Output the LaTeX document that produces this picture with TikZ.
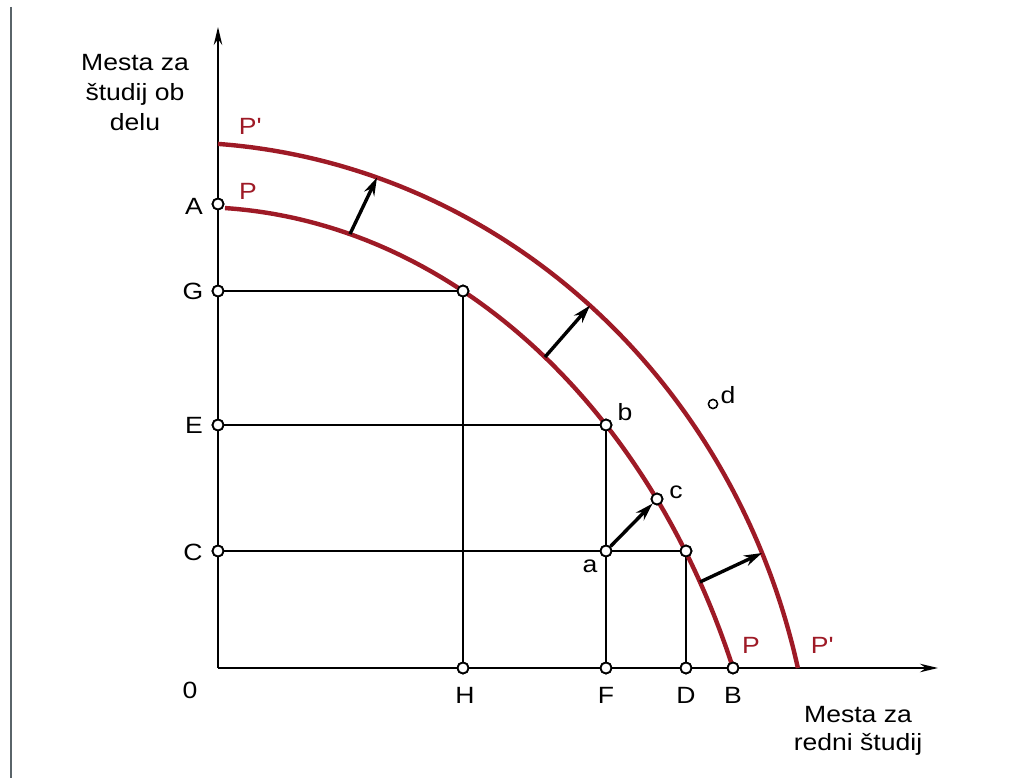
\documentclass[tikz,border=0pt]{standalone}
\usepackage{fontspec}
\setmainfont{Liberation Sans}[FakeStretch=1.13]
\usetikzlibrary{arrows.meta}
\definecolor{curvered}{RGB}{158,26,38}
\definecolor{scanline}{RGB}{90,100,105}
\begin{document}
\begin{tikzpicture}[x=1pt,y=-1pt,
  lbl/.style={font=\fontsize{23.5}{28}\selectfont, inner sep=0pt, anchor=base},
  redlbl/.style={lbl, text=curvered},
  pt/.style={circle, draw=black, fill=white, line width=1.8pt, minimum size=11pt, inner sep=0pt},
  smallpt/.style={pt, minimum size=9pt, line width=1.4pt},
  axis/.style={line width=2pt, -{Stealth[length=18pt,width=8.5pt]}},
  guide/.style={line width=1.5pt},
  ppf/.style={draw=curvered, line width=4.4pt},
  shiftarrow/.style={line width=3.4pt, -{Stealth[length=18pt,width=11pt]}},
]
\useasboundingbox (0,0) rectangle (1034,778);
\fill[white] (0,0) rectangle (1034,778);
% scan edge
\draw[line width=1.4pt, scanline] (11,7) -- (11,778);

% axes
\coordinate (O) at (218,668);
\coordinate (ytop) at (218,27);
\coordinate (xend) at (938,668);

% points on axes
\node[pt] (A) at (218,204) {};
\node[pt] (G) at (218,291) {};
\node[pt] (E) at (218,425) {};
\node[pt] (C) at (218,551) {};
\node[pt] (H) at (463,668) {};
\node[pt] (F) at (606,668) {};
\node[pt] (D) at (686,668) {};
\node[pt] (B) at (733,668) {};
% points inside
\node[pt] (Gp) at (463,291) {};
\node[pt] (b) at (606,425) {};
\node[pt] (c) at (657,499) {};
\node[pt] (a) at (606,551) {};
\node[pt] (Dp) at (686,551) {};
\node[smallpt] (d) at (713,404) {};

% guide lines
\draw[guide] (G) -- (Gp);
\draw[guide] (Gp) -- (H);
\draw[guide] (E) -- (b);
\draw[guide] (b) -- (a);
\draw[guide] (a) -- (F);
\draw[guide] (C) -- (a);
\draw[guide] (a) -- (Dp);
\draw[guide] (Dp) -- (D);

% axes drawn
\draw[axis] (O) -- (ytop);
\draw[axis] (O) -- (xend);

% curves (elliptic arcs)
\draw[ppf] plot[domain=22.57:87, samples=120, smooth] ({194.45+583.2*cos(\x)},{954.9-747.9*sin(\x)});
\draw[ppf] plot[domain=13.19:86, samples=120, smooth] ({173.2+641.6*cos(\x)},{823.4-681.2*sin(\x)});

% shift arrows
\coordinate (s1a) at (350,234); \coordinate (s1b) at (377,177.5);
\coordinate (s2a) at (545,357); \coordinate (s2b) at (590,305.5);
\coordinate (s4a) at (700,582); \coordinate (s4b) at (762,553);
\draw[shiftarrow] (s1a) -- (s1b);
\draw[shiftarrow] (s2a) -- (s2b);
\draw[shiftarrow] (a) -- (c);
\draw[shiftarrow] (s4a) -- (s4b);

% redraw circles on top
\foreach \n in {A,G,E,C,H,F,D,B,Gp,b,c,a,Dp} {\node[pt] at (\n) {};}
\node[smallpt] at (d) {};

% axis labels
\node[lbl] (yl1) at (135,71) {Mesta za};
\node[lbl] (yl2) at (135,101) {študij ob};
\node[lbl] (yl3) at (135,131) {delu};
\node[lbl] (xl1) at (858,722) {Mesta za};
\node[lbl] (xl2) at (858,750) {redni študij};

% point labels
\node[lbl] (lA) at (194,215) {A};
\node[lbl] (lG) at (193,300) {G};
\node[lbl] (lE) at (194,433) {E};
\node[lbl] (lC) at (193,560) {C};
\node[lbl] (l0) at (190,698) {0};
\node[lbl] (lH) at (465,703) {H};
\node[lbl] (lF) at (606,703) {F};
\node[lbl] (lD) at (686,703) {D};
\node[lbl] (lB) at (733,703) {B};
\node[lbl] (lb) at (625,420) {b};
\node[lbl] (lc) at (676,498) {c};
\node[lbl] (la) at (590,572) {a};
\node[lbl] (ld) at (728,403) {d};

% curve labels
\node[redlbl] (lP1) at (248,200) {P};
\node[redlbl] (lP2) at (250,135) {P\textquotesingle};
\node[redlbl] (lP3) at (751,653) {P};
\node[redlbl] (lP4) at (822,653) {P\textquotesingle};
\end{tikzpicture}
\end{document}
